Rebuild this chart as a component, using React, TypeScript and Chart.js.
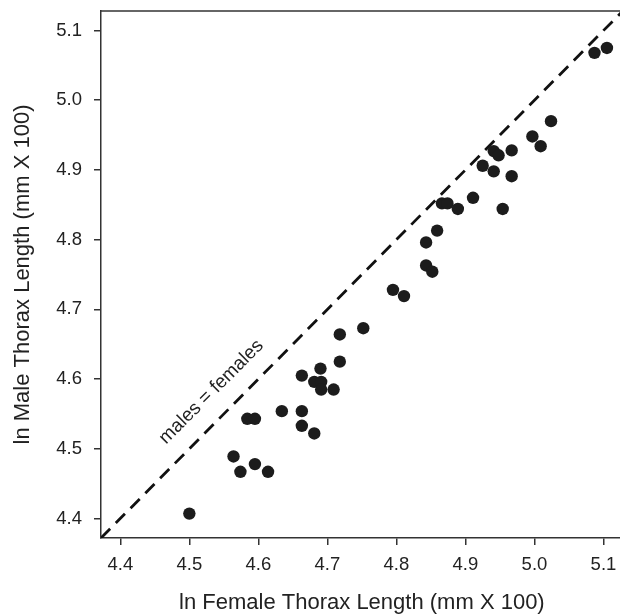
import React, { useEffect, useRef } from "react";
import { Chart, registerables } from "chart.js";

Chart.register(...registerables);

// ln female thorax length (x) and ln male thorax length (y), one pair per species
const femaleLn = [
  4.5, 4.564, 4.574, 4.595, 4.614, 4.584, 4.595, 4.634, 4.663, 4.663,
  4.681, 4.663, 4.69, 4.681, 4.691, 4.691, 4.709, 4.718, 4.718, 4.752,
  4.795, 4.811, 4.843, 4.852, 4.843, 4.859, 4.866, 4.874, 4.889, 4.911,
  4.954, 4.925, 4.941, 4.941, 4.948, 4.967, 4.967, 4.997, 5.009, 5.024,
  5.087, 5.105,
];
const maleLn = [
  4.407, 4.489, 4.467, 4.478, 4.467, 4.543, 4.543, 4.554, 4.554, 4.533,
  4.522, 4.605, 4.615, 4.596, 4.596, 4.585, 4.585, 4.625, 4.664, 4.673,
  4.728, 4.719, 4.763, 4.754, 4.796, 4.813, 4.852, 4.852, 4.844, 4.86,
  4.844, 4.906, 4.898, 4.927, 4.921, 4.928, 4.891, 4.948, 4.934, 4.97,
  5.068, 5.075,
];

const tickValues = [4.4, 4.5, 4.6, 4.7, 4.8, 4.9, 5.0, 5.1];
const axisMin = 4.372;
const axisMax = 5.128;
const refLineX = [4.372, 5.128];
const refLineY = [4.372, 5.128];

const xTitle = "ln Female Thorax Length (mm X 100)";
const yTitle = "ln Male Thorax Length (mm X 100)";
const annotationText = "males = females";
const annotationPos = [4.532, 4.5815];

const FONT = '"Liberation Sans", Arial, Helvetica, sans-serif';
const AXIS_COLOR = "#333";
const TEXT_COLOR = "#222";

const framePlugin = {
  id: "frameAndLabel",
  afterDraw(chart: any) {
    const { ctx, chartArea, scales } = chart;
    ctx.save();
    ctx.strokeStyle = AXIS_COLOR;
    ctx.lineWidth = 1.5;
    ctx.beginPath();
    ctx.moveTo(chartArea.left, chartArea.top);
    ctx.lineTo(chartArea.right, chartArea.top);
    ctx.stroke();

    const px = scales.x.getPixelForValue(annotationPos[0]);
    const py = scales.y.getPixelForValue(annotationPos[1]);
    ctx.translate(px, py);
    ctx.rotate(-Math.PI / 4);
    ctx.font = `19px ${FONT}`;
    ctx.fillStyle = TEXT_COLOR;
    ctx.textAlign = "center";
    ctx.textBaseline = "middle";
    ctx.fillText(annotationText, 0, 0);
    ctx.restore();
  },
};

export default function App() {
  const ref = useRef<HTMLCanvasElement>(null);

  useEffect(() => {
    if (!ref.current) return;
    const points = femaleLn.map((x, i) => ({ x, y: maleLn[i] }));
    const line = refLineX.map((x, i) => ({ x, y: refLineY[i] }));
    const setTicks = (scale: any) => {
      scale.ticks = tickValues.map((v) => ({ value: v }));
    };
    const chart = new Chart(ref.current, {
      type: "scatter",
      data: {
        datasets: [
          {
            data: points,
            backgroundColor: "#1c1c1c",
            borderWidth: 0,
            pointRadius: 6.2,
            pointHoverRadius: 6.2,
          },
          {
            data: line,
            showLine: true,
            borderColor: "#111",
            borderWidth: 2.8,
            borderDash: [13, 8],
            pointRadius: 0,
            fill: false,
          },
        ],
      },
      options: {
        responsive: false,
        animation: false,
        events: [],
        layout: { padding: { top: 11, left: 0, right: 0, bottom: 0 } },
        plugins: { legend: { display: false }, tooltip: { enabled: false } },
        scales: {
          x: {
            type: "linear",
            min: axisMin,
            max: axisMax,
            afterBuildTicks: setTicks,
            afterFit: (s: any) => {
              s.height = 76;
              s.paddingLeft = 0;
              s.paddingRight = 0;
            },
            border: { display: true, color: AXIS_COLOR, width: 1.5 },
            grid: {
              display: true,
              drawOnChartArea: false,
              drawTicks: true,
              tickLength: 7,
              color: AXIS_COLOR,
              lineWidth: 1.5,
            },
            ticks: {
              autoSkip: false,
              maxRotation: 0,
              padding: 9,
              color: TEXT_COLOR,
              font: { family: FONT, size: 18.5 },
              callback: (v: any) => Number(v).toFixed(1),
            },
            title: {
              display: true,
              text: xTitle,
              color: TEXT_COLOR,
              font: { family: FONT, size: 22, lineHeight: 1 },
              padding: { top: 16, bottom: 0 },
            },
          },
          y: {
            type: "linear",
            min: axisMin,
            max: axisMax,
            afterBuildTicks: setTicks,
            afterFit: (s: any) => {
              s.width = 101;
              s.paddingTop = 0;
              s.paddingBottom = 0;
            },
            border: { display: true, color: AXIS_COLOR, width: 1.5 },
            grid: {
              display: true,
              drawOnChartArea: false,
              drawTicks: true,
              tickLength: 7,
              color: AXIS_COLOR,
              lineWidth: 1.5,
            },
            ticks: {
              autoSkip: false,
              padding: 12,
              color: TEXT_COLOR,
              font: { family: FONT, size: 18.5 },
              callback: (v: any) => Number(v).toFixed(1),
            },
            title: {
              display: true,
              text: yTitle,
              color: TEXT_COLOR,
              font: { family: FONT, size: 22, lineHeight: 1.2 },
              padding: { top: 10, bottom: 13 },
            },
          },
        },
      },
      plugins: [framePlugin],
    });
    return () => chart.destroy();
  }, []);

  return (
    <div
      style={{
        position: "fixed",
        left: 0,
        top: 0,
        width: 620,
        height: 614,
        overflow: "hidden",
        background: "#fff",
      }}
    >
      <canvas ref={ref} width={629} height={614} style={{ display: "block" }} />
    </div>
  );
}
